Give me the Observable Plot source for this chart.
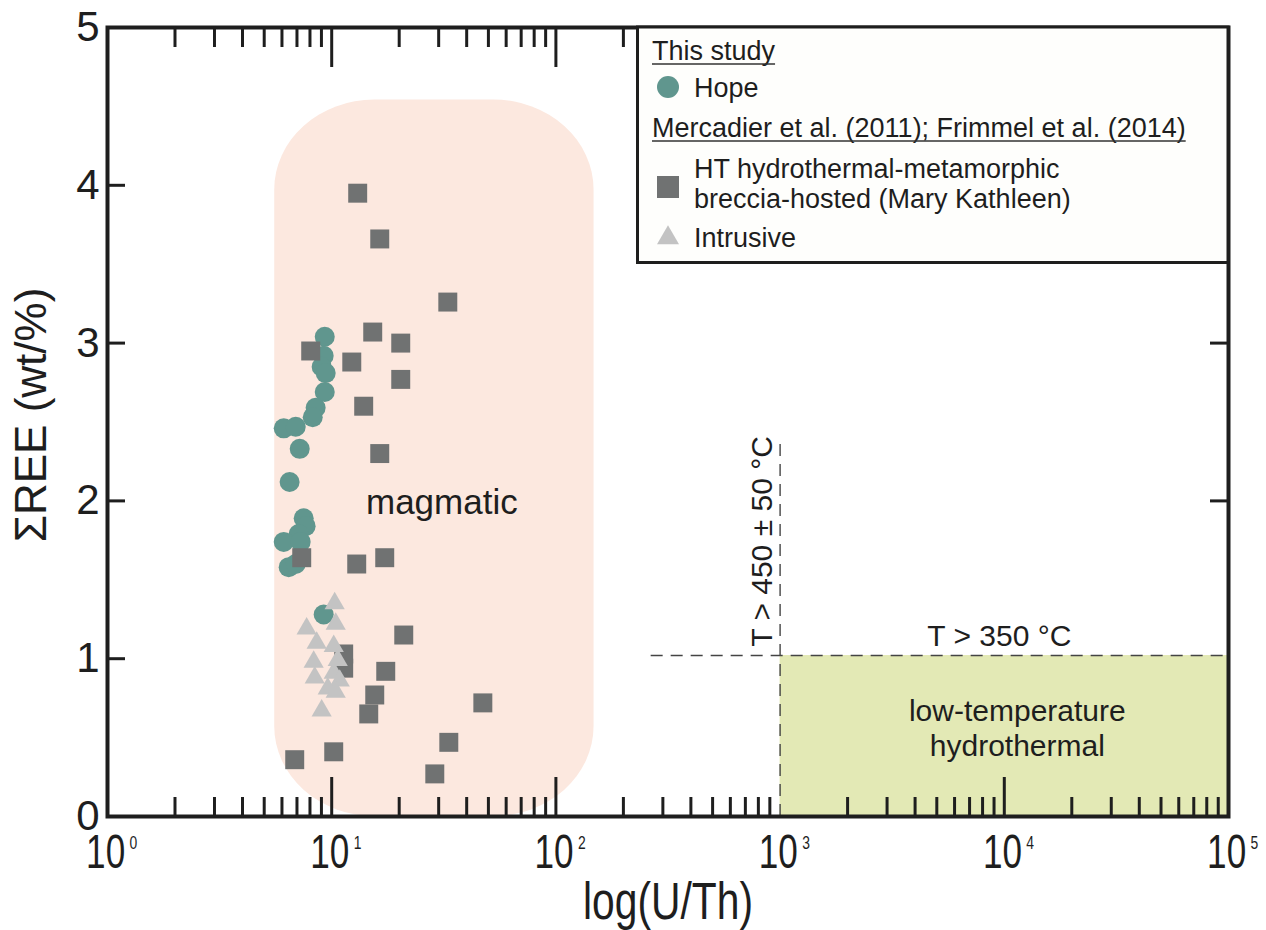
<!DOCTYPE html>
<html><head><meta charset="utf-8">
<script src="https://cdn.jsdelivr.net/npm/d3@7"></script>
<script src="https://cdn.jsdelivr.net/npm/@observablehq/plot@0.6"></script>
<style>
html,body{margin:0;padding:0;background:#fff;overflow:hidden;}
#wrap{position:relative;width:1266px;height:930px;}
</style></head><body>
<div id="wrap"><div id="chart"></div></div>
<script>
// ---- data ----
const hopeUTh = [9.31, 9.21, 9.02, 9.40, 9.31, 8.48, 8.23, 6.11, 6.91, 7.20, 6.49, 7.50, 7.65, 7.12, 6.11, 7.27, 6.43, 6.91, 9.21];
const hopeREE = [3.04, 2.92, 2.85, 2.81, 2.69, 2.59, 2.53, 2.46, 2.47, 2.33, 2.12, 1.89, 1.84, 1.79, 1.74, 1.74, 1.58, 1.60, 1.28];

const htUTh = [13.06, 16.38, 32.95, 15.24, 20.32, 8.06, 12.29, 20.32, 13.89, 16.38, 7.35, 12.93, 17.24, 20.96, 11.31, 11.31, 17.42, 15.56, 14.63, 47.22, 33.29, 28.83, 6.84, 10.21];
const htREE = [3.95, 3.66, 3.26, 3.07, 3.00, 2.95, 2.88, 2.77, 2.60, 2.30, 1.64, 1.60, 1.64, 1.15, 1.03, 0.94, 0.92, 0.77, 0.65, 0.72, 0.47, 0.27, 0.36, 0.41];

const intrUTh = [10.31, 7.73, 10.42, 8.57, 10.21, 8.31, 10.64, 8.40, 10.21, 10.86, 9.60, 10.42, 9.02];
const intrREE = [1.35, 1.19, 1.22, 1.10, 1.08, 0.98, 0.99, 0.88, 0.91, 0.86, 0.81, 0.79, 0.67];

const magmaticRegion = [{x1: 5.57, x2: 148, y1: 0, y2: 4.54}];
const lowTRegion = [{x1: 1000, x2: 1e5, y1: 0, y2: 1.02}];
const hLine = [{y: 1.02, x1: 266, x2: 1e5}];
const vLine = [{x: 1000, y1: 0, y2: 2.40}];

const regionLabels = [
  {x: 31, y: 2.0, label: "magmatic", size: 35},
  {x: 11430, y: 0.567, label: "low-temperature\nhydrothermal", size: 30}
];
const tempLabels = [
  {x: 9500, y: 1.141, label: "T > 350 °C", rotate: 0},
  {x: 831, y: 1.743, label: "T > 450 ± 50 °C", rotate: -90}
];

const yTickValues = [0, 1, 2, 3, 4, 5];
const yTicksLeft = [1, 2, 3, 4];
const yTicksRight = [2, 3, 4];
const xLabelValues = [1, 10, 100, 1000, 10000, 100000];
const xLabelExp = ["0", "1", "2", "3", "4", "5"];
const xMajorBottom = [10, 100, 10000, 100000];
const xMajorTop = [10, 100, 1000, 10000];

const legendTitles = ["This study", "Mercadier et al. (2011); Frimmel et al. (2014)"];
const legendItems = [
  {label: ["Hope"], symbol: "circle", color: "#60968e"},
  {label: ["HT hydrothermal-metamorphic", "breccia-hosted (Mary Kathleen)"], symbol: "square", color: "#707272"},
  {label: ["Intrusive"], symbol: "triangle", color: "#c3c3c3"}
];

// ---- layout ----
const W = 1266, H = 930, mL = 107, mR = 38, mT = 27, mB = 114;
const fw = W - mL - mR, fh = H - mT - mB;
const ink = "#1e1e1e";
const sans = "'Liberation Sans', Arial, sans-serif";
const squeeze = 0.8;

const xMinor = d3.scaleLog().domain([1, 1e5]).ticks().filter(d => String(d)[0] !== "1");

const hope = hopeUTh.map((x, i) => ({x, y: hopeREE[i]}));
const ht = htUTh.map((x, i) => ({x, y: htREE[i]}));
const intr = intrUTh.map((x, i) => ({x, y: intrREE[i]}));

const chart = Plot.plot({
  width: W, height: H,
  marginLeft: mL, marginRight: mR, marginTop: mT, marginBottom: mB,
  x: {type: "log", domain: [1, 1e5], axis: null},
  y: {domain: [0, 5], axis: null},
  style: {fontFamily: sans, color: ink, background: "#fff"},
  marks: [
    Plot.rect(magmaticRegion, {x1: "x1", x2: "x2", y1: "y1", y2: "y2", rx: 100, ry: 90, fill: "#fce8df"}),
    Plot.rect(lowTRegion, {x1: "x1", x2: "x2", y1: "y1", y2: "y2", fill: "#e3e9b5"}),
    Plot.ruleY(hLine, {y: "y", x1: "x1", x2: "x2", stroke: "#444", strokeWidth: 1.4, strokeDasharray: "12,8"}),
    Plot.ruleX(vLine, {x: "x", y1: "y1", y2: "y2", stroke: "#444", strokeWidth: 1.4, strokeDasharray: "12,8"}),
    // ticks
    Plot.tickX(xMinor, {x: d => d, insetTop: fh - 19, stroke: ink, strokeWidth: 3}),
    Plot.tickX(xMajorBottom, {x: d => d, insetTop: fh - 39, stroke: ink, strokeWidth: 3}),
    Plot.tickX(xMinor, {x: d => d, insetBottom: fh - 20, stroke: ink, strokeWidth: 3}),
    Plot.tickX(xMajorTop, {x: d => d, insetBottom: fh - 40, stroke: ink, strokeWidth: 3}),
    Plot.tickY(yTicksLeft, {y: d => d, insetRight: fw - 18, stroke: ink, strokeWidth: 3}),
    Plot.tickY(yTicksRight, {y: d => d, insetLeft: fw - 18, stroke: ink, strokeWidth: 3}),
    // annotations
    Plot.text(regionLabels, {x: "x", y: "y", text: "label", fontSize: d => d.size, lineHeight: 1.17, fill: ink}),
    Plot.text(tempLabels, {x: "x", y: "y", text: "label", rotate: "rotate", fontSize: 30, fill: ink}),
    // points
    Plot.dot(hope, {x: "x", y: "y", r: 10, symbol: "circle", fill: "#60968e"}),
    Plot.dot(ht, {x: "x", y: "y", r: 10.7, symbol: "square", fill: "#707272"}),
    Plot.dot(intr, {x: "x", y: "y", r: 7.5, symbol: "triangle", fill: "#c3c3c3"}),
    Plot.frame({stroke: ink, strokeWidth: 4}),
    // tick labels
    Plot.text(yTickValues, {y: d => d, frameAnchor: "left", dx: -8, textAnchor: "end", lineAnchor: "middle", text: d => String(d), fontSize: 42, fill: ink}),
    Plot.text(xLabelValues, {x: d => d, frameAnchor: "bottom", dy: 36, textAnchor: "start", lineAnchor: "middle", text: () => "10", fontSize: 48, fill: ink}),
    // axis titles
    Plot.text(["log(U/Th)"], {frameAnchor: "bottom", dy: 86, textAnchor: "middle", lineAnchor: "middle", text: d => d, fontSize: 51, fill: ink}),
    Plot.text(["ΣREE (wt/%)"], {frameAnchor: "left", dx: -76, dy: -7, rotate: -90, textAnchor: "middle", lineAnchor: "middle", text: d => d, fontSize: 44, fill: ink})
  ]
});
document.getElementById("chart").append(chart);

// x tick labels: "10" + superscript exponent, with a condensed look (no narrow font installed)
d3.select(chart).selectAll("g[font-size='48'] text").each(function (_, i) {
  const baseLen = this.getComputedTextLength();          // width of "10"
  d3.select(this).append("tspan")
    .attr("font-size", 19).attr("dx", 6).attr("dy", -19)
    .text(xLabelExp[i]);
  const total = this.getComputedTextLength();
  this.setAttribute("textLength", (total * squeeze).toFixed(1));
  this.setAttribute("lengthAdjust", "spacingAndGlyphs");
  // centre the "10" part on the tick
  const shift = -(baseLen * squeeze) / 2;
  const x0 = parseFloat(this.getAttribute("x") || 0);
  if (this.hasAttribute("x")) this.setAttribute("x", (x0 + shift).toFixed(1));
  else this.setAttribute("dx", shift.toFixed(1));
});
d3.select(chart).selectAll("g[font-size='51'] text").each(function () {
  const len = this.getComputedTextLength();
  this.setAttribute("textLength", (len * squeeze).toFixed(1));
  this.setAttribute("lengthAdjust", "spacingAndGlyphs");
});

// ---- legend (inside the plot frame, top right) ----
const leg = d3.select("#wrap").append("svg")
  .attr("width", W).attr("height", H)
  .style("position", "absolute").style("left", "0px").style("top", "0px")
  .style("pointer-events", "none");
leg.append("rect").attr("x", 637.5).attr("y", 27).attr("width", 590.5).attr("height", 235.5)
  .attr("fill", "#fefefc").attr("stroke", ink).attr("stroke-width", 3);

const legFont = 27;
const titleX = 652, symX = 668, textX = 694;
const titleBase = [60, 137];
const itemBase = [[97], [178, 208], [247]];
const itemSymY = [87, 187, 238];
const symSize = {circle: Math.PI * 11 * 11, square: 22 * 22, triangle: Math.sqrt(3) / 4 * 22 * 22};
const symType = {circle: d3.symbolCircle, square: d3.symbolSquare, triangle: d3.symbolTriangle};

legendTitles.forEach((t, i) => {
  const tx = leg.append("text").attr("x", titleX).attr("y", titleBase[i])
    .attr("font-family", sans).attr("font-size", legFont).attr("fill", ink).text(t);
  const len = tx.node().getComputedTextLength();
  leg.append("line").attr("x1", titleX).attr("x2", titleX + len)
    .attr("y1", titleBase[i] + 4).attr("y2", titleBase[i] + 4)
    .attr("stroke", "#333").attr("stroke-width", 1.6);
});
legendItems.forEach((it, i) => {
  leg.append("path")
    .attr("d", d3.symbol(symType[it.symbol], symSize[it.symbol])())
    .attr("transform", `translate(${symX},${itemSymY[i]})`)
    .attr("fill", it.color);
  it.label.forEach((line, j) => {
    leg.append("text").attr("x", textX).attr("y", itemBase[i][j])
      .attr("font-family", sans).attr("font-size", legFont).attr("fill", ink).text(line);
  });
});
</script>
</body></html>
